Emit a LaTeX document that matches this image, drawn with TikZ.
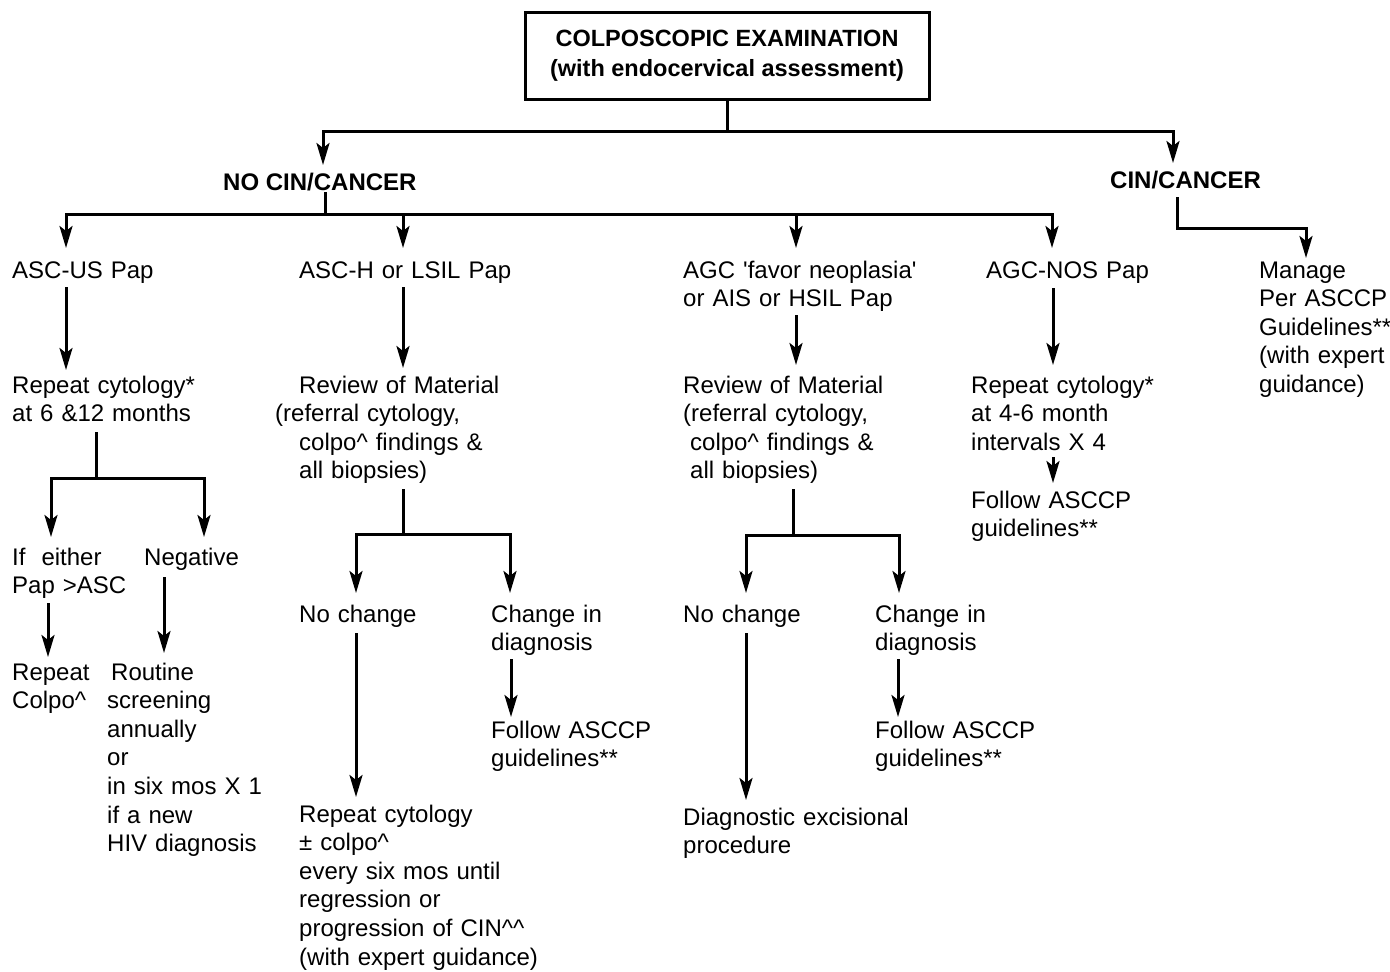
\documentclass[tikz,border=0pt]{standalone}
\usepackage{fontspec}
\setmainfont{Liberation Sans}
\usetikzlibrary{arrows.meta}
\begin{document}
\begin{tikzpicture}[x=1bp,y=-1bp,
  ln/.style={line width=3bp, line join=miter},
  arr/.style={line width=3bp, line join=miter, -{Stealth[length=22bp,width=13bp,inset=5bp]}},
  txt/.style={anchor=base west, inner sep=0pt, text width=400bp, align=left, font=\fontsize{24bp}{28.6bp}\selectfont},
  btxt/.style={anchor=base west, inner sep=0pt, font=\fontsize{24bp}{28.6bp}\selectfont\bfseries},
  topbox/.style={draw, line width=3bp, minimum width=404bp, minimum height=87bp, align=center, inner sep=0pt, font=\fontsize{23.5bp}{30bp}\selectfont\bfseries}
]
\useasboundingbox (0,0) rectangle (1390,971);
\fill[white] (0,0) rectangle (1390,971);

% ---------- nodes ----------
\node[topbox] (top) at (727,55.5) {COLPOSCOPIC EXAMINATION\\(with endocervical assessment)};
\node[btxt] (nocin) at (223,190) {NO CIN/CANCER};
\node[btxt] (cin) at (1110,188) {CIN/CANCER};

\node[txt] (ascus) at (12,278) {ASC-US Pap};
\node[txt] (asch) at (299,278) {ASC-H or LSIL Pap};
\node[txt] (agcf) at (683,278) {AGC \textquotesingle favor neoplasia\textquotesingle\\or AIS or HSIL Pap};
\node[txt] (agcnos) at (986,278) {AGC-NOS Pap};
\node[txt] (manage) at (1259,278) {Manage\\Per ASCCP\\Guidelines**\\(with expert\\guidance)};

\node[txt] (rep1) at (12,393) {Repeat cytology*\\at 6 \&12 months};
\node[txt] (rev1) at (275,393) {\hspace*{24bp}Review of Material\\(referral cytology,\\\hspace*{24bp}colpo\textasciicircum\ findings \&\\\hspace*{24bp}all biopsies)};
\node[txt] (rev2) at (683,393) {Review of Material\\(referral cytology,\\\hspace*{7bp}colpo\textasciicircum\ findings \&\\\hspace*{7bp}all biopsies)};
\node[txt] (rep2) at (971,393) {Repeat cytology*\\at 4-6 month\\intervals X 4};
\node[txt] (fol3) at (971,508) {Follow ASCCP\\guidelines**};

\node[txt] (either) at (12,565) {If\ \ either\\Pap >ASC};
\node[txt] (neg) at (144,565) {Negative};
\node[txt] (noch1) at (299,622) {No change};
\node[txt] (ch1) at (491,622) {Change in\\diagnosis};
\node[txt] (noch2) at (683,622) {No change};
\node[txt] (ch2) at (875,622) {Change in\\diagnosis};

\node[txt] (repcol) at (12,680) {Repeat\\Colpo\textasciicircum};
\node[txt] (routine) at (107,680) {\hspace*{4bp}Routine\\screening\\annually\\or\\in six mos X 1\\if a new\\HIV diagnosis};
\node[txt] (fol1) at (491,738) {Follow ASCCP\\guidelines**};
\node[txt] (fol2) at (875,738) {Follow ASCCP\\guidelines**};

\node[txt] (rep3) at (299,822) {Repeat cytology\\± colpo\textasciicircum\\every six mos until\\regression or\\progression of CIN\textasciicircum\textasciicircum\\(with expert guidance)};
\node[txt] (diag) at (683,825) {Diagnostic excisional\\procedure};

% ---------- junction coordinates ----------
\coordinate (j0) at (727,131);
\coordinate (t-nocin) at (323,165);
\coordinate (t-cin) at (1173,163);

\coordinate (s-nocin) at (325,192);
\coordinate (j1) at (325,214);
\coordinate (t-ascus) at (66,248);
\coordinate (t-asch) at (403,248);
\coordinate (t-agcf) at (796,248);
\coordinate (t-agcnos) at (1052,248);

\coordinate (s-cin) at (1177,197);
\coordinate (t-manage) at (1306,258);

\coordinate (s-ascus) at (66,287);
\coordinate (t-rep1) at (66,370);
\coordinate (s-asch) at (403,287);
\coordinate (t-rev1) at (403,368);
\coordinate (s-agcf) at (796,315);
\coordinate (t-rev2) at (796,365);
\coordinate (s-agcnos) at (1053,288);
\coordinate (t-rep2) at (1053,365);
\coordinate (s-rep2) at (1053,457);
\coordinate (t-fol3) at (1053,483);

\coordinate (s-rep1) at (96,432);
\coordinate (j2) at (96,478);
\coordinate (t-either) at (51,537);
\coordinate (t-neg) at (204,537);
\coordinate (s-either) at (48,603);
\coordinate (t-repcol) at (48,657);
\coordinate (s-neg) at (164,577);
\coordinate (t-routine) at (164,653);

\coordinate (s-rev1) at (403,489);
\coordinate (j3) at (403,534);
\coordinate (t-noch1) at (356,593);
\coordinate (t-ch1) at (510,593);
\coordinate (s-noch1) at (356,633);
\coordinate (t-rep3) at (356,797);
\coordinate (s-ch1) at (511,659);
\coordinate (t-fol1) at (511,717);

\coordinate (s-rev2) at (793,489);
\coordinate (j4) at (793,535);
\coordinate (t-noch2) at (746,593);
\coordinate (t-ch2) at (899,593);
\coordinate (s-noch2) at (746,633);
\coordinate (t-diag) at (746,800);
\coordinate (s-ch2) at (898,659);
\coordinate (t-fol2) at (898,717);

% ---------- connectors ----------
\draw[ln] (top.south) -- (j0);
\draw[arr] (j0) -| (t-nocin);
\draw[arr] (j0) -| (t-cin);

\draw[ln] (s-nocin) -- (j1);
\draw[arr] (j1) -| (t-ascus);
\draw[arr] (j1) -| (t-asch);
\draw[arr] (j1) -| (t-agcf);
\draw[arr] (j1) -| (t-agcnos);

\draw[arr] (s-cin) |- (1240,228) -| (t-manage);

\draw[arr] (s-ascus) -- (t-rep1);
\draw[arr] (s-asch) -- (t-rev1);
\draw[arr] (s-agcf) -- (t-rev2);
\draw[arr] (s-agcnos) -- (t-rep2);
\draw[arr] (s-rep2) -- (t-fol3);

\draw[ln] (s-rep1) -- (j2);
\draw[arr] (j2) -| (t-either);
\draw[arr] (j2) -| (t-neg);
\draw[arr] (s-either) -- (t-repcol);
\draw[arr] (s-neg) -- (t-routine);

\draw[ln] (s-rev1) -- (j3);
\draw[arr] (j3) -| (t-noch1);
\draw[arr] (j3) -| (t-ch1);
\draw[arr] (s-noch1) -- (t-rep3);
\draw[arr] (s-ch1) -- (t-fol1);

\draw[ln] (s-rev2) -- (j4);
\draw[arr] (j4) -| (t-noch2);
\draw[arr] (j4) -| (t-ch2);
\draw[arr] (s-noch2) -- (t-diag);
\draw[arr] (s-ch2) -- (t-fol2);
\end{tikzpicture}
\end{document}
